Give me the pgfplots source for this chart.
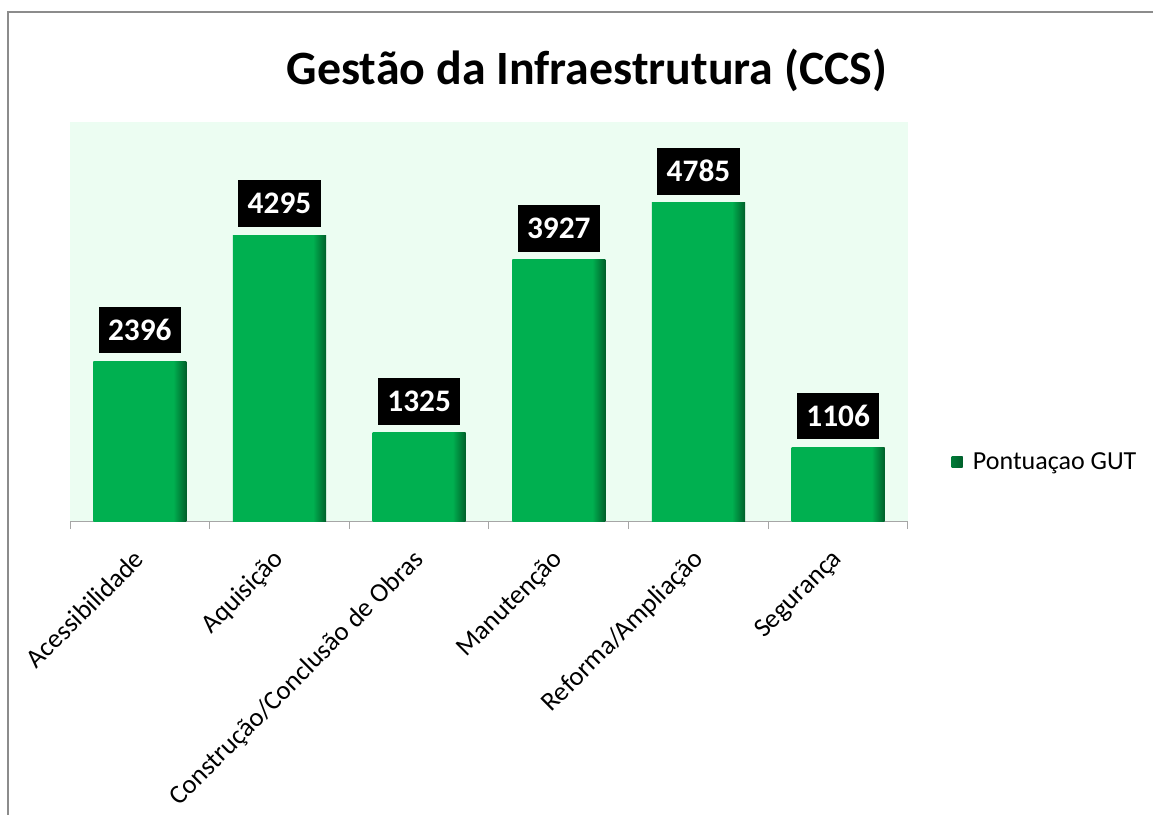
\documentclass[border=0pt]{standalone}
\usepackage{pgfplots}
\pgfplotsset{compat=1.18}
\usepackage{fontspec}
\setmainfont{Carlito}
\definecolor{barg}{RGB}{0,176,80}
\definecolor{bardk}{RGB}{0,95,42}
\definecolor{bgmint}{RGB}{236,253,242}
\definecolor{axgray}{RGB}{166,166,166}
\definecolor{framegray}{RGB}{140,140,140}
\pgfdeclarehorizontalshading{barshade}{100bp}{color(0bp)=(barg); color(25bp)=(barg); color(68bp)=(barg); color(75bp)=(bardk); color(100bp)=(bardk)}
\begin{document}
\begin{tikzpicture}
\path[use as bounding box] (0,0) rectangle (864.75pt,610.5pt);
\draw[framegray, line width=1.3pt] (6pt,-2pt) -- (6pt,601.5pt) -- (870pt,601.5pt);
\node[font=\bfseries\fontsize{35.9}{43}\selectfont] at (440.25pt,558pt) {Gestão da Infraestrutura (CCS)};
\begin{axis}[
  at={(52.5pt,219.75pt)}, anchor=south west,
  scale only axis, width=628.5pt, height=299.25pt,
  xmin=-0.5, xmax=5.5, ymin=0, ymax=6000,
  axis background/.style={fill=bgmint},
  axis x line*=bottom, axis y line=none,
  x axis line style={-, draw=axgray, line width=0.75pt},
  xtick={0,1,2,3,4,5},
  xticklabels={Acessibilidade,Aquisição,Construção/Conclusão de Obras,Manutenção,Reforma/Ampliação,Segurança},
  major tick length=0pt,
  minor xtick={-0.5,0.5,1.5,2.5,3.5,4.5,5.5},
  minor tick length=6pt,
  tick align=outside,
  minor tick style={draw=axgray, line width=0.75pt},
  ytick=\empty,
  xticklabel style={rotate=45, anchor=north east, font=\fontsize{20}{24}\selectfont, inner sep=2pt, xshift=-16pt, yshift=-8pt},
  ybar, bar width=0.666, bar shift=0pt,
  nodes near coords, point meta=explicit symbolic,
  every node near coord/.append style={fill=black, text=white, font=\bfseries\fontsize{23.5}{28}\selectfont, minimum height=35pt, inner xsep=7pt, yshift=6pt},
  legend style={at={(1.047,0.148)}, anchor=west, draw=none, fill=none, font=\fontsize{19.5}{23}\selectfont},
  legend image code/.code={\path[left color=barg!70!black, right color=bardk] (0pt,-4.1pt) rectangle (8.25pt,4.1pt); \path (14pt,0pt);},
  every axis plot/.append style={draw=none, shading=barshade},
]
\addplot coordinates {(0,2396) [2396]};
\addlegendentry{Pontuaçao GUT}
\addplot+[forget plot] coordinates {(1,4295) [4295]};
\addplot+[forget plot] coordinates {(2,1325) [1325]};
\addplot+[forget plot] coordinates {(3,3927) [3927]};
\addplot+[forget plot] coordinates {(4,4785) [4785]};
\addplot+[forget plot] coordinates {(5,1106) [1106]};
\end{axis}
\end{tikzpicture}
\end{document}
